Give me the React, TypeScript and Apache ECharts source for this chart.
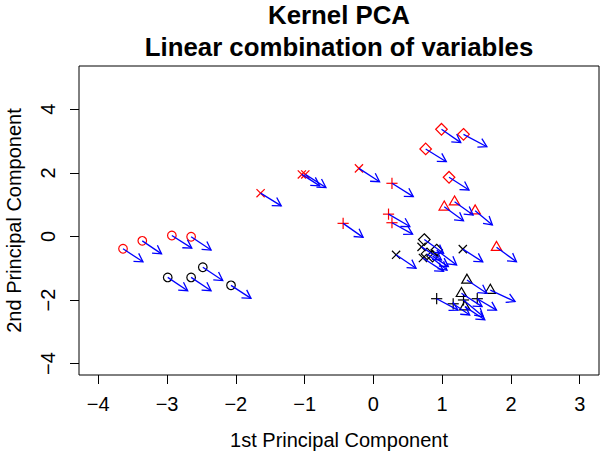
import React, { useEffect, useRef } from "react";
import * as echarts from "echarts";

// Points: 1st / 2nd principal component
const pc1 = [
  -3.64, -3.36, -2.93, -2.65, // red circles
  -2.99, -2.65, -2.48, -2.07, // black circles
  -1.64, -1.04, -0.99, -0.21, // red x
  -0.44, 0.27, 0.22, 0.27, // red +
  0.99, 1.31, 0.76, 1.1, // red diamonds
  1.03, 1.18, 1.48, 1.79, // red triangles
  0.33, 1.3, 0.7, 0.72, // black x
  0.74, 0.78, 0.92, 0.86, // black diamonds
  1.36, 1.7, 1.28, 1.33, // black triangles
  0.92, 1.16, 1.31, 1.51, // black +
];
const pc2 = [
  -0.39, -0.14, 0.03, -0.01,
  -1.29, -1.29, -0.97, -1.54,
  1.36, 1.95, 1.95, 2.14,
  0.41, 1.67, 0.7, 0.43,
  3.37, 3.21, 2.75, 1.86,
  0.93, 1.09, 0.81, -0.34,
  -0.58, -0.4, -0.33, -0.68,
  -0.1, -0.55, -0.43, -0.62,
  -1.37, -1.69, -1.79, -2.21,
  -1.96, -2.12, -2.0, -1.96,
];
// Arrow tips (projected point after the change)
const tip1 = [
  -3.35, -3.08, -2.64, -2.36,
  -2.7, -2.36, -2.19, -1.78,
  -1.34, -0.78, -0.69, 0.09,
  -0.15, 0.58, 0.53, 0.57,
  1.27, 1.65, 1.06, 1.39,
  1.31, 1.45, 1.73, 2.08,
  0.62, 1.59, 0.99, 1.02,
  1.02, 1.07, 1.21, 1.09,
  1.65, 2.06, 1.58, 1.62,
  1.23, 1.4, 1.6, 1.79,
];
const tip2 = [
  -0.8, -0.55, -0.37, -0.43,
  -1.71, -1.71, -1.39, -1.95,
  0.96, 1.59, 1.54, 1.72,
  -0.03, 1.25, 0.31, 0.07,
  2.95, 2.82, 2.35, 1.46,
  0.49, 0.67, 0.36, -0.8,
  -1.0, -0.8, -0.74, -1.1,
  -0.53, -1.06, -0.9, -0.95,
  -1.79, -2.05, -2.21, -2.62,
  -2.32, -2.47, -2.53, -2.32,
];
// Group of each point: marker symbol and colour
const groupSymbol = [
  "circle", "circle", "x", "plus", "diamond", "triangle", "x", "diamond", "triangle", "plus",
];
const groupColor = [
  "#FF0000", "#000000", "#FF0000", "#FF0000", "#FF0000", "#FF0000", "#000000", "#000000", "#000000", "#000000",
];
const pointGroup = [
  0, 0, 0, 0, 1, 1, 1, 1, 2, 2, 2, 2, 3, 3, 3, 3, 4, 4, 4, 4,
  5, 5, 5, 5, 6, 6, 6, 6, 7, 7, 7, 7, 8, 8, 8, 8, 9, 9, 9, 9,
];

const xTicks = [-4, -3, -2, -1, 0, 1, 2, 3];
const yTicks = [-4, -2, 0, 2, 4];

const FONT = '"Liberation Sans", Arial, Helvetica, sans-serif';
const minus = (v: number | string) => String(v).replace("-", "\u2212");

export default function App() {
  const ref = useRef<HTMLDivElement>(null);

  useEffect(() => {
    if (!ref.current) return;
    const chart = echarts.init(ref.current, null, { renderer: "svg" });

    const markerData = pc1.map((x, i) => [x, pc2[i], pointGroup[i]]);
    const arrowData = pc1.map((x, i) => [x, pc2[i], tip1[i], tip2[i]]);

    const option: any = {
      animation: false,
      backgroundColor: "#ffffff",
      graphic: [
        {
          type: "text",
          x: 339,
          y: 15,
          style: {
            text: "Kernel PCA",
            align: "center",
            verticalAlign: "middle",
            fontSize: 25.8,
            fontWeight: "bold",
            fontFamily: FONT,
            fill: "#000",
          },
        },
        {
          type: "text",
          x: 339,
          y: 47,
          style: {
            text: "Linear combination of variables",
            align: "center",
            verticalAlign: "middle",
            fontSize: 25.8,
            fontWeight: "bold",
            fontFamily: FONT,
            fill: "#000",
          },
        },
      ],
      grid: {
        left: 79,
        top: 66,
        width: 520,
        height: 309,
        show: true,
        borderColor: "#000",
        borderWidth: 1,
        backgroundColor: "transparent",
        containLabel: false,
        outerBoundsMode: "none",
      },
      xAxis: {
        type: "value",
        min: -4.28,
        max: 3.28,
        name: "1st Principal Component",
        nameLocation: "middle",
        nameGap: 55,
        nameTextStyle: { fontSize: 20, fontFamily: FONT, color: "#000" },
        axisLine: { show: false, onZero: false },
        splitLine: { show: false },
        axisTick: {
          show: true,
          inside: false,
          length: 9,
          customValues: xTicks,
          lineStyle: { color: "#000", width: 1 },
        },
        axisLabel: {
          customValues: xTicks,
          margin: 19,
          fontSize: 20,
          fontFamily: FONT,
          color: "#000",
          formatter: (v: number) => minus(v),
        },
      },
      yAxis: {
        type: "value",
        min: -4.36,
        max: 5.36,
        name: "2nd Principal Component",
        nameLocation: "middle",
        nameGap: 55,
        nameTextStyle: { fontSize: 20, fontFamily: FONT, color: "#000" },
        axisLine: { show: false, onZero: false },
        splitLine: { show: false },
        axisTick: {
          show: true,
          inside: false,
          length: 9,
          customValues: yTicks,
          lineStyle: { color: "#000", width: 1 },
        },
        axisLabel: {
          customValues: yTicks,
          rotate: 90,
          margin: 21,
          fontSize: 20,
          fontFamily: FONT,
          color: "#000",
          formatter: (v: number) => minus(v),
        },
      },
      series: [
        {
          type: "custom",
          name: "points",
          data: markerData,
          encode: { x: 0, y: 1 },
          renderItem: (params: any, api: any) => {
            const [cx, cy] = api.coord([api.value(0), api.value(1)]);
            const g = api.value(2);
            const sym = groupSymbol[g];
            const stroke = groupColor[g];
            const style = { fill: "none", stroke, lineWidth: 1.2 };
            if (sym === "circle") {
              return { type: "circle", shape: { cx, cy, r: 4.3 }, style };
            }
            if (sym === "triangle") {
              return {
                type: "polygon",
                shape: { points: [[cx, cy - 5.8], [cx - 5.2, cy + 3.2], [cx + 5.2, cy + 3.2]] },
                style,
              };
            }
            if (sym === "diamond") {
              return {
                type: "polygon",
                shape: { points: [[cx, cy - 5.8], [cx + 5.8, cy], [cx, cy + 5.8], [cx - 5.8, cy]] },
                style,
              };
            }
            if (sym === "plus") {
              const h = 5.6;
              return {
                type: "group",
                children: [
                  { type: "line", shape: { x1: cx - h, y1: cy, x2: cx + h, y2: cy }, style },
                  { type: "line", shape: { x1: cx, y1: cy - h, x2: cx, y2: cy + h }, style },
                ],
              };
            }
            const h = 4.1;
            return {
              type: "group",
              children: [
                { type: "line", shape: { x1: cx - h, y1: cy - h, x2: cx + h, y2: cy + h }, style },
                { type: "line", shape: { x1: cx - h, y1: cy + h, x2: cx + h, y2: cy - h }, style },
              ],
            };
          },
          z: 2,
        },
        {
          type: "custom",
          name: "arrows",
          data: arrowData,
          encode: { x: [0, 2], y: [1, 3] },
          renderItem: (params: any, api: any) => {
            const [sx, sy] = api.coord([api.value(0), api.value(1)]);
            const [ex, ey] = api.coord([api.value(2), api.value(3)]);
            const a = Math.atan2(ey - sy, ex - sx);
            const L = 9.5;
            const d = Math.PI / 6;
            const style = { stroke: "#0000FF", lineWidth: 1.3, fill: "none" };
            return {
              type: "group",
              children: [
                { type: "line", shape: { x1: sx, y1: sy, x2: ex, y2: ey }, style },
                {
                  type: "polyline",
                  shape: {
                    points: [
                      [ex - L * Math.cos(a - d), ey - L * Math.sin(a - d)],
                      [ex, ey],
                      [ex - L * Math.cos(a + d), ey - L * Math.sin(a + d)],
                    ],
                  },
                  style,
                },
              ],
            };
          },
          z: 3,
        },
      ],
    };

    chart.setOption(option);
    return () => chart.dispose();
  }, []);

  return <div ref={ref} style={{ width: 600, height: 455, position: "absolute", left: 0, top: 0 }} />;
}
